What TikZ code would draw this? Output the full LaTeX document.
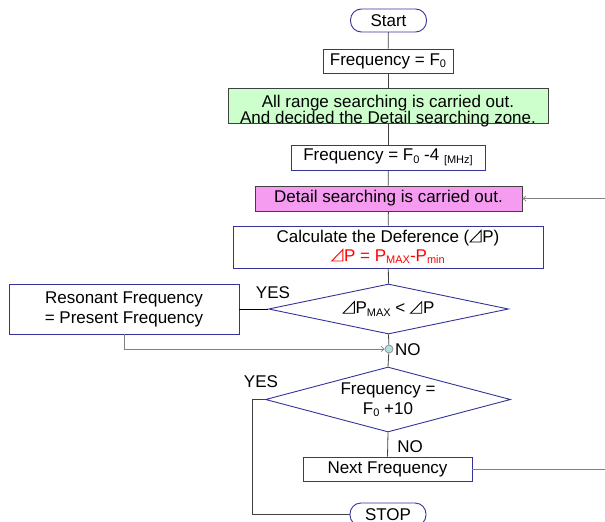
\documentclass[tikz,border=0pt]{standalone}
\usepackage{fontspec}
\setmainfont{Liberation Sans}
\usetikzlibrary{shapes.geometric,arrows.meta}

\definecolor{boxblue}{RGB}{51,51,153}
\definecolor{linegray}{RGB}{64,64,64}
\definecolor{loopgray}{RGB}{128,128,128}
\definecolor{greenfill}{RGB}{204,255,204}
\definecolor{pinkfill}{RGB}{245,155,240}
\definecolor{dotfill}{RGB}{176,224,224}

% outlined right-triangle "delta" sign, drawn in the current text colour
\newcommand\tri{\tikz[baseline=0pt]\draw[line width=0.9pt, line join=miter]
  (0.4pt,0.45pt) -- (11.6pt,0.45pt) -- (11.6pt,12pt) -- cycle;\hspace{0.8pt}}
% small lowered subscripts
\newcommand\lsub[2][-2.5pt]{\raisebox{#1}{\fontsize{11}{11}\selectfont #2}}

\begin{document}
\begin{tikzpicture}[x=1pt,y=-1pt,
  base/.style={draw=boxblue, line width=0.9pt, inner sep=0pt, align=center,
    font=\fontsize{17}{20}\selectfont},
  procbox/.style={base, rectangle},
  termbox/.style={base, rectangle, rounded corners=11pt},
  decbox/.style={base, diamond, aspect=4},
  conn/.style={draw=linegray, line width=0.8pt},
  loopline/.style={draw=loopgray, line width=0.7pt},
  tip/.style={-{Straight Barb[length=3pt,width=5pt]}},
  lbl/.style={font=\fontsize{17}{20}\selectfont, inner sep=0pt}
]
\useasboundingbox (0,0) rectangle (605,522);
\clip (0,0) rectangle (605,522);

% process chain
\node[termbox, minimum width=76pt, minimum height=23pt] (start) at (388.5,20.5) {Start};
\node[procbox, minimum width=130pt, minimum height=24pt] (f0) at (388,61) {Frequency = F\lsub{0}};
\node[procbox, draw=linegray, fill=greenfill, minimum width=320pt, minimum height=35pt]
      (allrange) at (388,105.5) {};
\node[align=center, inner sep=0pt, font=\fontsize{17}{15}\selectfont, anchor=north]
      (allrangetext) at (388,94.5)
      {All range searching is carried out.\\And decided the Detail searching zone.};
\node[procbox, minimum width=194pt, minimum height=25pt] (f04) at (388,157.5)
      {Frequency = F\lsub{0} -4 \lsub{[MHz]}};
\node[procbox, draw=linegray, fill=pinkfill, minimum width=267pt, minimum height=25pt] (detail)
      at (388.5,198.5) {Detail searching is carried out.};
\node[procbox, minimum width=310pt, minimum height=42pt, font=\fontsize{17}{19}\selectfont]
      (calc) at (388,247)
      {Calculate the Deference (\tri P)\\
       \textcolor{red}{\tri P = P\lsub{MAX}-P\lsub{min}}};

% first decision and its YES branch
\node[decbox, minimum width=240pt, minimum height=50pt] (d1) at (388.5,309)
      {\tri P\lsub[-3pt]{MAX} < \tri P};
\node[procbox, minimum width=230pt, minimum height=50pt] (reson) at (124,309)
      {Resonant Frequency\\= Present Frequency};
\node[circle, draw=loopgray, fill=dotfill, line width=0.6pt, minimum size=8pt, inner sep=0pt]
      (join) at (389,349) {};

% second decision, next step and end
\node[decbox, minimum width=245pt, minimum height=65pt] (d2) at (388,399.5)
      {Frequency =\\F\lsub{0} +10};
\node[procbox, minimum width=169pt, minimum height=24pt] (next) at (387.5,469) {Next Frequency};
\node[termbox, minimum width=76pt, minimum height=23pt] (stop) at (388,514.5) {STOP};

% labels
\node[lbl] (yes1) at (273,293) {YES};
\node[lbl, anchor=west] (no1) at (395,350) {NO};
\node[lbl] (yes2) at (261,382) {YES};
\node[lbl] (no2) at (410,447) {NO};

% loop turning points
\coordinate (rescorner) at (124,349);
\coordinate (yescorner) at (252,399.5);
\coordinate (stopcorner) at (252,514.5);
\coordinate (loopA) at (610,469);
\coordinate (loopB) at (610,198.5);

% main connectors
\draw[conn] (start) -- (f0);
\draw[conn] (f0) -- (allrange);
\draw[conn] (allrange) -- (f04);
\draw[conn] (f04) -- (detail);
\draw[conn] (detail) -- (calc);
\draw[conn] (calc) -- (d1.north);
\draw[conn, draw=black] (d1.west) -- (reson.east);
\draw[loopline, tip] (reson.south) -- (rescorner) -- (join.west);
\draw[conn] (d1.south) -- (join);
\draw[conn] (join) -- (d2.north);
\draw[conn] (d2.west) -- (yescorner) -- (stopcorner) -- (stop.west);
\draw[conn] (d2.south) -- (next.north);
\draw[loopline, tip] (next.east) -- (loopA) -- (loopB) -- (detail.east);
\end{tikzpicture}
\end{document}
